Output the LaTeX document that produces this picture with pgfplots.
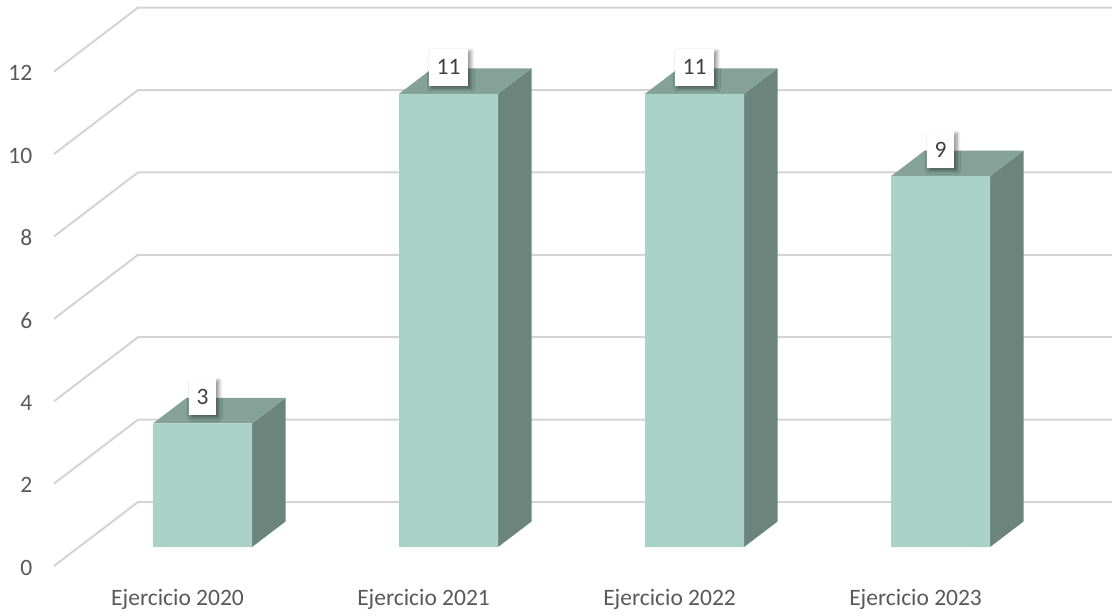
\documentclass[border=0pt]{standalone}
\usepackage{fontspec}
\setmainfont{Carlito}
\usepackage{pgfplots}
\pgfplotsset{compat=1.18}
\usepackage{pgfplotstable}
\usetikzlibrary{shadows.blur}

\definecolor{frontc}{HTML}{AAD2C7}
\definecolor{topc}{HTML}{84A298}
\definecolor{sidec}{HTML}{6B857D}
\definecolor{gridc}{HTML}{D4D4D4}
\definecolor{txt}{HTML}{595959}
\definecolor{lbl}{HTML}{404040}

\pgfplotstableread{
x v
0 3
1 11
2 11
3 9
}\datatable

\begin{document}
\begin{tikzpicture}
\begin{axis}[
  x=246bp, y=41.2bp,
  xmin=-0.8232, xmax=3.697, ymin=-1.626, ymax=13.277,
  axis line style={draw=none},
  tick style={draw=none},
  major tick length=0pt,
  clip=false,
  /pgf/number format/assume math mode=true,
  xtick={-0.1014,0.8986,1.8986,2.8986},
  xticklabels={Ejercicio 2020, Ejercicio 2021, Ejercicio 2022, Ejercicio 2023},
  ytick={0,2,4,6,8,10,12},
  ticklabel style={font=\fontsize{23.5bp}{28bp}\selectfont, text=txt},
  xticklabel style={anchor=base, inner sep=0pt, yshift=9bp},
  yticklabel style={anchor=east, inner sep=0pt, xshift=32.5bp, yshift=-20.5bp},
]
% back wall gridlines with side diagonals
\addplot[gridc, line width=2bp, forget plot] coordinates {(-0.6037,-0.4612) (-0.2622,1.0922) (3.697,1.0922)};
\addplot[gridc, line width=2bp, forget plot] coordinates {(-0.6037,1.5388) (-0.2622,3.0922) (3.697,3.0922)};
\addplot[gridc, line width=2bp, forget plot] coordinates {(-0.6037,3.5388) (-0.2622,5.0922) (3.697,5.0922)};
\addplot[gridc, line width=2bp, forget plot] coordinates {(-0.6037,5.5388) (-0.2622,7.0922) (3.697,7.0922)};
\addplot[gridc, line width=2bp, forget plot] coordinates {(-0.6037,7.5388) (-0.2622,9.0922) (3.697,9.0922)};
\addplot[gridc, line width=2bp, forget plot] coordinates {(-0.6037,9.5388) (-0.2622,11.0922) (3.697,11.0922)};
\addplot[gridc, line width=2bp, forget plot] coordinates {(-0.6037,11.5388) (-0.2622,13.0922) (3.697,13.0922)};

% side faces
\addplot[fill=sidec, draw=none, forget plot] coordinates {(0.2012,0) (0.3374,0.619) (0.3374,3.619) (0.2012,3)} --cycle;
\addplot[fill=sidec, draw=none, forget plot] coordinates {(1.2012,0) (1.3374,0.619) (1.3374,11.619) (1.2012,11)} --cycle;
\addplot[fill=sidec, draw=none, forget plot] coordinates {(2.2012,0) (2.3374,0.619) (2.3374,11.619) (2.2012,11)} --cycle;
\addplot[fill=sidec, draw=none, forget plot] coordinates {(3.2012,0) (3.3374,0.619) (3.3374,9.619) (3.2012,9)} --cycle;
% top faces
\addplot[fill=topc, draw=none, forget plot] coordinates {(-0.2012,3) (0.2012,3) (0.3374,3.619) (-0.0650,3.619)} --cycle;
\addplot[fill=topc, draw=none, forget plot] coordinates {(0.7988,11) (1.2012,11) (1.3374,11.619) (0.9350,11.619)} --cycle;
\addplot[fill=topc, draw=none, forget plot] coordinates {(1.7988,11) (2.2012,11) (2.3374,11.619) (1.9350,11.619)} --cycle;
\addplot[fill=topc, draw=none, forget plot] coordinates {(2.7988,9) (3.2012,9) (3.3374,9.619) (2.9350,9.619)} --cycle;

% front faces with data labels
\addplot[ybar, bar width=0.4024, fill=frontc, draw=none,
  nodes near coords,
  nodes near coords style={anchor=center, yshift=26.5bp, fill=white, text=lbl,
    font=\fontsize{23.5bp}{28bp}\selectfont,
    inner xsep=8bp, inner ysep=11bp, text height=15bp, text depth=0pt,
    blur shadow={shadow xshift=2.5bp, shadow yshift=-2.5bp, shadow blur radius=3.5bp,
      shadow blur steps=8, shadow opacity=45}},
  ] table[x=x, y=v] {\datatable};
\end{axis}
\pgfresetboundingbox
\useasboundingbox (current axis.south west) rectangle (current axis.north east);
\end{tikzpicture}
\end{document}
